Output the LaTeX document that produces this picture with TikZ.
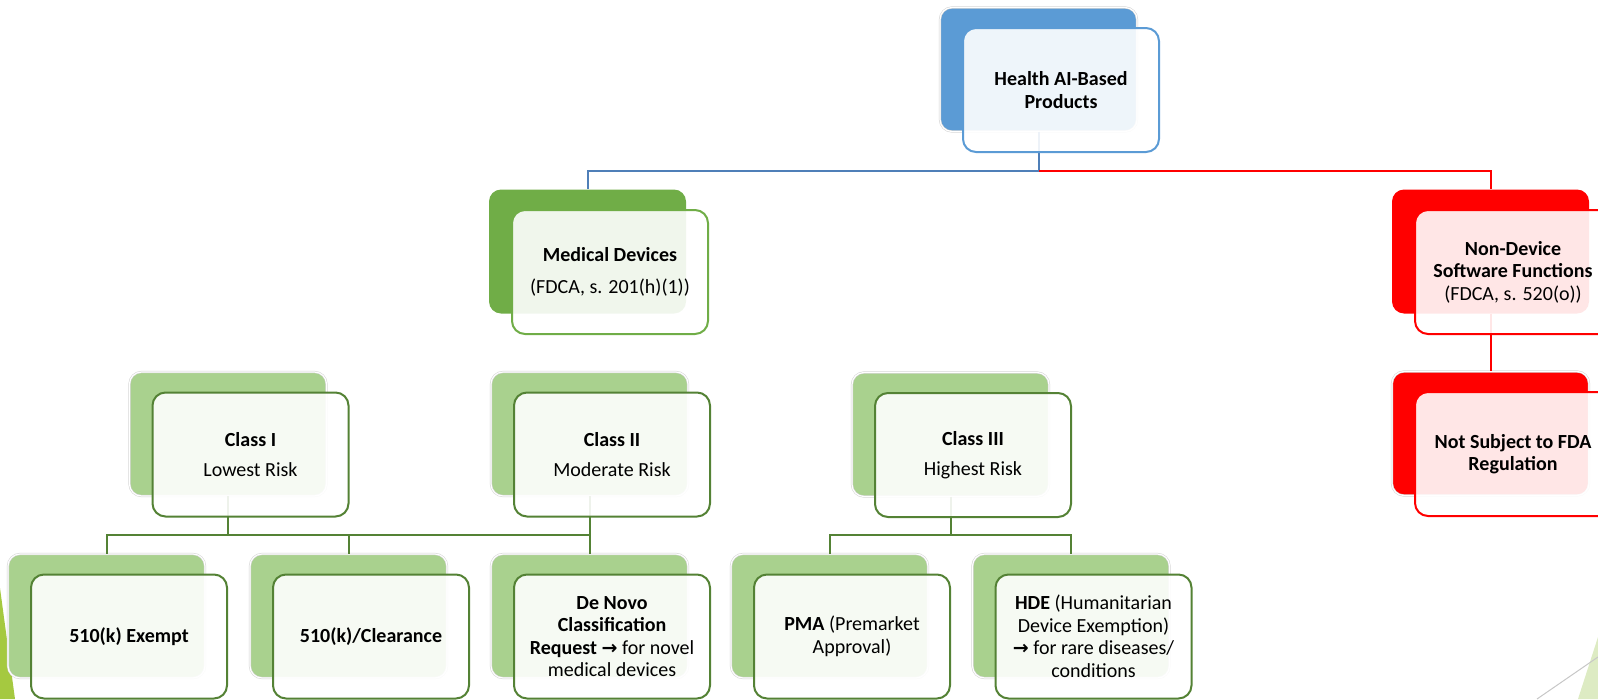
\documentclass[tikz,border=0pt]{standalone}
\usepackage{fontspec}
\setmainfont{Carlito}
\newfontfamily\symfont{DejaVu Sans}
\definecolor{topback}{HTML}{5B9BD5}
\definecolor{bluelink}{HTML}{4F7FB8}
\definecolor{medback}{HTML}{70AD47}
\definecolor{classback}{HTML}{A9D18E}
\definecolor{classline}{HTML}{548235}
\definecolor{alarm}{HTML}{FF0000}
\definecolor{leaf}{HTML}{A5C940}
\definecolor{paleleaf}{HTML}{DDEBC3}
\newcommand{\arr}{{\symfont\bfseries\fontsize{19}{20}\selectfont →}}
\begin{document}
\begin{tikzpicture}[x=1pt,y=-1pt,
  every node/.style={font=\fontsize{20}{22.5}\selectfont},
  backbox/.style={rounded corners=12pt, minimum width=197pt, minimum height=124pt, inner sep=0pt},
  ring/.style={draw=black!18, double=white, double distance=1.2pt, line width=0.5pt},
  frontbox/.style={rounded corners=13pt, minimum width=196pt, minimum height=124pt,
    inner sep=2pt, align=center, fill=white, fill opacity=0.9, text opacity=1, line width=2pt},
  link/.style={line width=2pt},
  front shift/.style={shift={(22.5,20.5)}}
]
\useasboundingbox (0,0) rectangle (1598,699);

% slide decorations
\fill[leaf] (0,588) -- (15,699) -- (0,699) -- cycle;
\fill[paleleaf] (1598,637) -- (1598,699) -- (1578,699) -- cycle;
\draw[black!22, line width=1pt] (1537,699) -- (1598,657);

% back panels
\node[backbox, fill=topback, ring] (topb) at (1038.5,69.5) {};
\node[backbox, fill=medback] (medb) at (587.5,251.5) {};
\node[backbox, fill=alarm] (ndb) at (1490.5,251.5) {};
\node[backbox, fill=alarm, ring] (nsb) at (1490.5,433.5) {};
\node[backbox, fill=classback, ring] (c1b) at (228,434) {};
\node[backbox, fill=classback, ring] (c2b) at (589.5,434) {};
\node[backbox, fill=classback, ring] (c3b) at (950.5,434.5) {};
\node[backbox, fill=classback, ring] (exb) at (106.5,616) {};
\node[backbox, fill=classback, ring] (clb) at (348.5,616) {};
\node[backbox, fill=classback, ring] (dnb) at (589.5,616) {};
\node[backbox, fill=classback, ring] (pmab) at (829.5,616) {};
\node[backbox, fill=classback, ring] (hdeb) at (1071,616) {};

% bus levels
\coordinate (bus1) at (0,171);
\coordinate (bus2) at (0,535);

% connectors
\draw[link, bluelink] (topb.south) -- (topb.south |- bus1) -| (medb.north);
\draw[link, alarm] (topb.south |- bus1) -| (ndb.north);
\draw[link, alarm] (ndb.south) -- (ndb.south |- nsb.north);
\draw[link, classline] (c1b.south) -- (c1b.south |- bus2) -| (exb.north);
\draw[link, classline] (c1b.south |- bus2) -| (clb.north);
\draw[link, classline] (c2b.south) -- (dnb.north);
\draw[link, classline] (c2b.south |- bus2) -| (clb.north);
\draw[link, classline] (c3b.south) -- (c3b.south |- bus2) -| (pmab.north);
\draw[link, classline] (c3b.south |- bus2) -| (hdeb.north);

% front panels with the labels
\node[frontbox, draw=topback] (top) at ([front shift]topb.center)
  {\textbf{Health AI-Based}\\\textbf{Products}};
\node[frontbox, draw=medback] (med) at ([front shift]medb.center)
  {\textbf{Medical Devices}\\[10pt](FDCA, s. 201(h)(1))};
\node[frontbox, draw=alarm] (nd) at ([front shift]ndb.center)
  {\textbf{Non-Device}\\\textbf{Software Functions}\\(FDCA, s. 520(o))};
\node[frontbox, draw=alarm] (ns) at ([front shift]nsb.center)
  {\textbf{Not Subject to FDA}\\\textbf{Regulation}};
\node[frontbox, draw=classline] (c1) at ([front shift]c1b.center)
  {\textbf{Class I}\\[8pt]Lowest Risk};
\node[frontbox, draw=classline] (c2) at ([front shift]c2b.center)
  {\textbf{Class II}\\[8pt]Moderate Risk};
\node[frontbox, draw=classline] (c3) at ([front shift]c3b.center)
  {\textbf{Class III}\\[8pt]Highest Risk};
\node[frontbox, draw=classline] (ex) at ([front shift]exb.center)
  {\textbf{510(k) Exempt}};
\node[frontbox, draw=classline] (cl) at ([front shift]clb.center)
  {\textbf{510(k)/Clearance}};
\node[frontbox, draw=classline] (dn) at ([front shift]dnb.center)
  {\textbf{De Novo}\\\textbf{Classification}\\\textbf{Request} \arr{} for novel\\medical devices};
\node[frontbox, draw=classline] (pma) at ([front shift]pmab.center)
  {\textbf{PMA} (Premarket\\Approval)};
\node[frontbox, draw=classline] (hde) at ([front shift]hdeb.center)
  {\textbf{HDE} (Humanitarian\\Device Exemption)\\\arr{} for rare diseases/\\conditions};
\end{tikzpicture}
\end{document}
